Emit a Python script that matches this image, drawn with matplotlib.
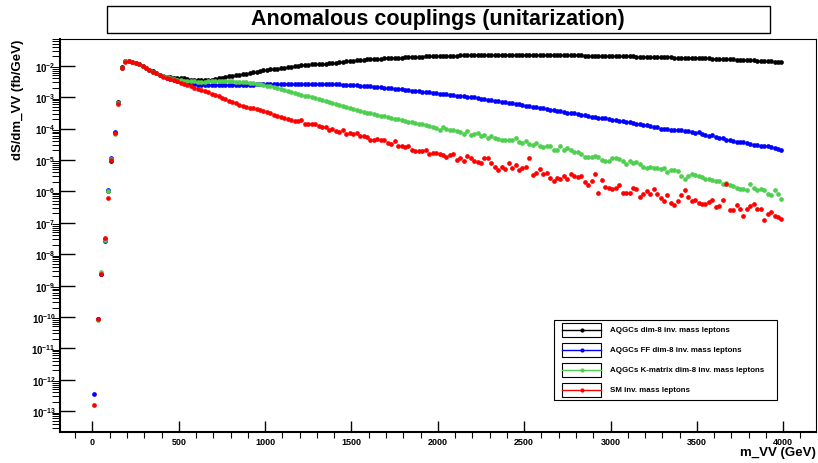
import numpy as np
import matplotlib.pyplot as plt
from matplotlib.patches import Rectangle
from matplotlib.lines import Line2D
from matplotlib.ticker import FixedLocator, MultipleLocator, LogLocator, LogFormatterSciNotation, NullFormatter

plt.rcParams['font.family'] = ['Liberation Sans', 'DejaVu Sans']
plt.rcParams['font.weight'] = 'bold'
plt.rcParams['axes.labelweight'] = 'bold'
plt.rcParams['mathtext.fontset'] = 'custom'
plt.rcParams['mathtext.rm'] = 'Liberation Sans:bold'
plt.rcParams['mathtext.it'] = 'Liberation Sans:bold'
plt.rcParams['mathtext.bf'] = 'Liberation Sans:bold'

# bin centres (20 GeV bins, 0-4000 GeV)
mvv = np.arange(10, 4000, 20)
xticks = [0, 500, 1000, 1500, 2000, 2500, 3000, 3500, 4000]
ydecades = [-13, -12, -11, -10, -9, -8, -7, -6, -5, -4, -3, -2]

# log10 of dS/dm_VV, one row = 10 bins (200 GeV)
nan = np.nan
lg_dim8 = [
    nan, -10.07, -8.62, -7.52, -6.00, -5.02, -4.14, -3.17, -2.05, -1.86,
    -1.86, -1.87, -1.91, -1.96, -2.02, -2.08, -2.13, -2.18, -2.23, -2.28,
    -2.32, -2.35, -2.37, -2.39, -2.40, -2.39, -2.39, -2.42, -2.44, -2.46,
    -2.47, -2.47, -2.47, -2.46, -2.45, -2.42, -2.40, -2.38, -2.36, -2.34,
    -2.32, -2.30, -2.28, -2.26, -2.25, -2.23, -2.21, -2.19, -2.17, -2.15,
    -2.14, -2.12, -2.10, -2.09, -2.07, -2.06, -2.04, -2.03, -2.01, -2.00,
    -1.99, -1.98, -1.97, -1.96, -1.95, -1.94, -1.93, -1.93, -1.92, -1.91,
    -1.90, -1.89, -1.87, -1.86, -1.85, -1.84, -1.83, -1.82, -1.81, -1.80,
    -1.80, -1.79, -1.78, -1.78, -1.77, -1.76, -1.76, -1.75, -1.74, -1.74,
    -1.73, -1.73, -1.72, -1.72, -1.71, -1.71, -1.70, -1.70, -1.70, -1.69,
    -1.69, -1.69, -1.68, -1.68, -1.68, -1.68, -1.67, -1.67, -1.67, -1.67,
    -1.67, -1.67, -1.66, -1.66, -1.66, -1.66, -1.66, -1.66, -1.66, -1.66,
    -1.66, -1.66, -1.66, -1.66, -1.66, -1.66, -1.66, -1.66, -1.66, -1.66,
    -1.66, -1.66, -1.66, -1.66, -1.67, -1.67, -1.67, -1.67, -1.67, -1.67,
    -1.67, -1.67, -1.68, -1.68, -1.68, -1.68, -1.68, -1.68, -1.69, -1.69,
    -1.69, -1.69, -1.69, -1.70, -1.70, -1.70, -1.70, -1.71, -1.71, -1.71,
    -1.71, -1.71, -1.72, -1.72, -1.72, -1.73, -1.73, -1.73, -1.74, -1.74,
    -1.74, -1.75, -1.75, -1.75, -1.76, -1.76, -1.77, -1.77, -1.77, -1.78,
    -1.78, -1.79, -1.79, -1.79, -1.80, -1.80, -1.81, -1.81, -1.82, -1.82,
    -1.83, -1.83, -1.84, -1.84, -1.85, -1.85, -1.86, -1.87, -1.88, -1.89,
]
lg_ff = [
    -12.45, -10.05, -8.62, -7.58, -5.95, -4.95, -4.12, -3.19, -2.06, -1.86,
    -1.86, -1.87, -1.91, -1.96, -2.02, -2.08, -2.13, -2.19, -2.24, -2.30,
    -2.34, -2.38, -2.42, -2.45, -2.48, -2.51, -2.54, -2.56, -2.58, -2.59,
    -2.60, -2.61, -2.62, -2.62, -2.62, -2.62, -2.62, -2.62, -2.62, -2.62,
    -2.61, -2.61, -2.61, -2.60, -2.60, -2.60, -2.60, -2.59, -2.59, -2.59,
    -2.59, -2.58, -2.58, -2.58, -2.58, -2.57, -2.57, -2.57, -2.57, -2.57,
    -2.57, -2.57, -2.57, -2.57, -2.57, -2.57, -2.57, -2.57, -2.58, -2.58,
    -2.59, -2.59, -2.60, -2.61, -2.61, -2.62, -2.63, -2.64, -2.64, -2.65,
    -2.66, -2.67, -2.68, -2.69, -2.70, -2.71, -2.72, -2.73, -2.74, -2.75,
    -2.76, -2.77, -2.79, -2.80, -2.81, -2.83, -2.84, -2.85, -2.87, -2.88,
    -2.89, -2.90, -2.91, -2.92, -2.94, -2.95, -2.96, -2.97, -2.99, -3.00,
    -3.01, -3.03, -3.05, -3.06, -3.08, -3.10, -3.11, -3.13, -3.15, -3.16,
    -3.18, -3.20, -3.21, -3.23, -3.25, -3.27, -3.29, -3.31, -3.33, -3.35,
    -3.36, -3.38, -3.40, -3.41, -3.43, -3.45, -3.47, -3.49, -3.50, -3.52,
    -3.55, -3.57, -3.58, -3.60, -3.62, -3.63, -3.65, -3.67, -3.68, -3.70,
    -3.72, -3.73, -3.75, -3.77, -3.79, -3.80, -3.82, -3.84, -3.86, -3.88,
    -3.90, -3.92, -3.94, -3.96, -4.00, -4.02, -4.02, -4.05, -4.06, -4.04,
    -4.06, -4.08, -4.09, -4.11, -4.13, -4.10, -4.16, -4.20, -4.24, -4.22,
    -4.27, -4.29, -4.30, -4.36, -4.38, -4.39, -4.42, -4.44, -4.43, -4.45,
    -4.50, -4.52, -4.53, -4.56, -4.56, -4.55, -4.60, -4.61, -4.66, -4.68,
]
lg_kmat = [
    nan, -10.10, -8.57, -7.55, -6.00, -4.98, -4.18, -3.19, -2.06, -1.86,
    -1.86, -1.87, -1.91, -1.96, -2.02, -2.08, -2.13, -2.19, -2.24, -2.30,
    -2.33, -2.36, -2.39, -2.42, -2.44, -2.46, -2.48, -2.49, -2.50, -2.50,
    -2.51, -2.51, -2.51, -2.50, -2.50, -2.50, -2.50, -2.50, -2.50, -2.50,
    -2.50, -2.51, -2.51, -2.52, -2.53, -2.54, -2.55, -2.57, -2.59, -2.61,
    -2.64, -2.66, -2.69, -2.71, -2.74, -2.77, -2.80, -2.83, -2.86, -2.89,
    -2.92, -2.95, -2.98, -3.01, -3.04, -3.07, -3.10, -3.13, -3.16, -3.19,
    -3.22, -3.25, -3.28, -3.31, -3.34, -3.37, -3.40, -3.43, -3.46, -3.49,
    -3.51, -3.54, -3.56, -3.59, -3.61, -3.64, -3.66, -3.69, -3.71, -3.73,
    -3.75, -3.78, -3.80, -3.82, -3.84, -3.86, -3.88, -3.91, -3.94, -3.99,
    -4.04, -3.96, -4.02, -4.04, -4.06, -4.08, -4.11, -4.17, -4.08, -4.19,
    -4.17, -4.15, -4.23, -4.22, -4.30, -4.24, -4.30, -4.33, -4.36, -4.38,
    -4.38, -4.35, -4.31, -4.43, -4.45, -4.40, -4.49, -4.51, -4.46, -4.54,
    -4.59, -4.55, -4.57, -4.68, -4.68, -4.57, -4.68, -4.61, -4.68, -4.75,
    -4.75, -4.80, -4.91, -4.91, -4.91, -4.89, -4.91, -4.99, -5.02, -5.04,
    -4.93, -4.93, -4.96, -5.04, -5.12, -5.02, -5.10, -5.08, -5.14, -5.21,
    -5.25, -5.23, -5.25, -5.25, -5.28, -5.25, -5.38, -5.33, -5.31, -5.36,
    -5.52, -5.60, -5.52, -5.44, -5.49, -5.52, -5.54, -5.60, -5.60, -5.65,
    -5.67, -5.67, -5.76, -5.73, -5.81, -5.84, -5.88, -5.91, -5.91, -5.95,
    -5.76, -5.88, -5.97, -5.91, -5.95, -6.07, -6.13, -5.97, -6.07, -6.23,
]
lg_sm = [
    -12.79, -10.07, -8.64, -7.50, -6.20, -5.00, -4.14, -3.22, -2.06, -1.87,
    -1.86, -1.87, -1.91, -1.96, -2.02, -2.08, -2.13, -2.19, -2.24, -2.30,
    -2.35, -2.39, -2.43, -2.46, -2.50, -2.54, -2.58, -2.62, -2.66, -2.70,
    -2.73, -2.77, -2.81, -2.85, -2.89, -2.92, -2.97, -3.03, -3.06, -3.11,
    -3.16, -3.19, -3.24, -3.27, -3.30, -3.34, -3.35, -3.39, -3.41, -3.45,
    -3.48, -3.51, -3.56, -3.59, -3.62, -3.65, -3.69, -3.73, -3.77, -3.76,
    -3.72, -3.84, -3.85, -3.86, -3.85, -3.93, -3.95, -3.96, -4.04, -4.02,
    -4.08, -4.11, -4.04, -4.17, -4.15, -4.17, -4.14, -4.25, -4.25, -4.27,
    -4.38, -4.35, -4.33, -4.38, -4.38, -4.46, -4.49, -4.41, -4.54, -4.56,
    -4.59, -4.56, -4.67, -4.70, -4.70, -4.70, -4.67, -4.80, -4.77, -4.78,
    -4.80, -4.84, -4.91, -4.83, -4.80, -5.00, -4.93, -5.04, -4.86, -4.93,
    -5.04, -5.07, -5.10, -4.93, -4.93, -5.10, -5.21, -5.33, -5.21, -5.28,
    -5.10, -5.25, -5.17, -5.33, -5.25, -5.23, -4.94, -5.47, -5.42, -5.28,
    -5.46, -5.40, -5.57, -5.67, -5.57, -5.60, -5.52, -5.60, -5.46, -5.52,
    -5.54, -5.51, -5.70, -5.81, -5.67, -5.44, -6.04, -5.65, -5.86, -5.89,
    -5.91, -5.89, -5.81, -6.04, -6.04, -6.04, -5.88, -5.91, -6.18, -6.07,
    -5.99, -6.09, -5.91, -6.07, -6.20, -6.30, -6.13, -6.37, -6.44, -6.30,
    -6.13, -5.97, -6.18, -6.30, -6.26, -6.37, -6.39, -6.39, -6.34, -6.26,
    -6.50, -6.48, -6.29, -5.76, -6.60, -6.60, -6.44, -6.55, -6.79, -6.57,
    -6.48, -6.39, -6.55, -6.57, -6.92, -6.73, -6.65, -6.79, -6.83, -6.87,
]

labels = ["AQGCs dim-8 inv. mass leptons",
          "AQGCs FF dim-8 inv. mass leptons",
          "AQGCs K-matrix dim-8 inv. mass leptons",
          "SM inv. mass leptons"]
colors = ["black", "#0000ff", "#4fcf4f", "#ff0000"]
series = [lg_dim8, lg_ff, lg_kmat, lg_sm]

W, H = 818, 464
def fx(x):
    return x / W
def fy(y):
    return 1 - y / H

fig = plt.figure(figsize=(W / 100, H / 100), dpi=100)
ax = fig.add_axes([fx(60), fy(432.7), (816 - 60) / W, (432.7 - 40) / H])

for lg, c in zip(series, colors):
    ax.plot(mvv, 10 ** np.array(lg), 'o', color=c, ms=3.4, mew=0)

ax.set_yscale('log')
ax.set_xlim(-188, 4190)
ax.set_ylim(10 ** -13.65, 10 ** -1.15)

ax.xaxis.set_major_locator(FixedLocator(xticks))
ax.xaxis.set_minor_locator(MultipleLocator(100))
ax.yaxis.set_major_locator(FixedLocator([10.0 ** d for d in ydecades]))
ax.yaxis.set_minor_locator(LogLocator(base=10, subs=np.arange(2, 10), numticks=30))
ax.yaxis.set_major_formatter(LogFormatterSciNotation())
ax.yaxis.set_minor_formatter(NullFormatter())

ax.tick_params(direction='in', top=False, right=False, labelsize=7, width=1)
ax.tick_params(axis='x', which='major', length=8, pad=4, labelsize=6.5)
ax.tick_params(axis='x', which='minor', length=4.3, width=0.8)
ax.tick_params(axis='y', which='major', length=11, pad=3)
ax.tick_params(axis='y', which='minor', length=5.5, width=0.7)
for s in ['left', 'bottom']:
    ax.spines[s].set_linewidth(1.5)
for s in ['top', 'right']:
    ax.spines[s].set_linewidth(0.8)

ax.set_ylabel("dS/dm_VV (fb/GeV)", fontsize=9.5, fontweight='bold', loc='top')
ax.yaxis.set_label_coords(-0.047, 1)
ax.set_xlabel("m_VV (GeV)", fontsize=9.5, fontweight='bold', loc='right')
ax.xaxis.set_label_coords(1, -0.036)

# title box
fig.add_artist(Rectangle((fx(107), fy(33.5)), (770 - 107) / W, 26.5 / H,
                         transform=fig.transFigure, fc='white', ec='black', lw=1))
fig.text(fx(438), fy(20), "Anomalous couplings (unitarization)",
         ha='center', va='center', fontsize=15.5)

# legend
fig.add_artist(Rectangle((fx(554), fy(401)), (777 - 554) / W, 80 / H,
                         transform=fig.transFigure, fc='white', ec='black', lw=0.8))
for i, (lab, c) in enumerate(zip(labels, colors)):
    yc = 331 + 20 * i
    fig.add_artist(Rectangle((fx(562), fy(yc + 7)), 39 / W, 14 / H,
                             transform=fig.transFigure, fc='none', ec='black', lw=0.8))
    fig.add_artist(Line2D([fx(562), fx(601)], [fy(yc), fy(yc)], color=c, lw=1,
                          transform=fig.transFigure))
    fig.add_artist(Line2D([fx(581.5)], [fy(yc)], marker='o', ms=3, mew=0, color=c,
                          transform=fig.transFigure))
    fig.text(fx(610), fy(yc), lab, ha='left', va='center', fontsize=5.7)

fig.savefig("out.png", dpi=100)
